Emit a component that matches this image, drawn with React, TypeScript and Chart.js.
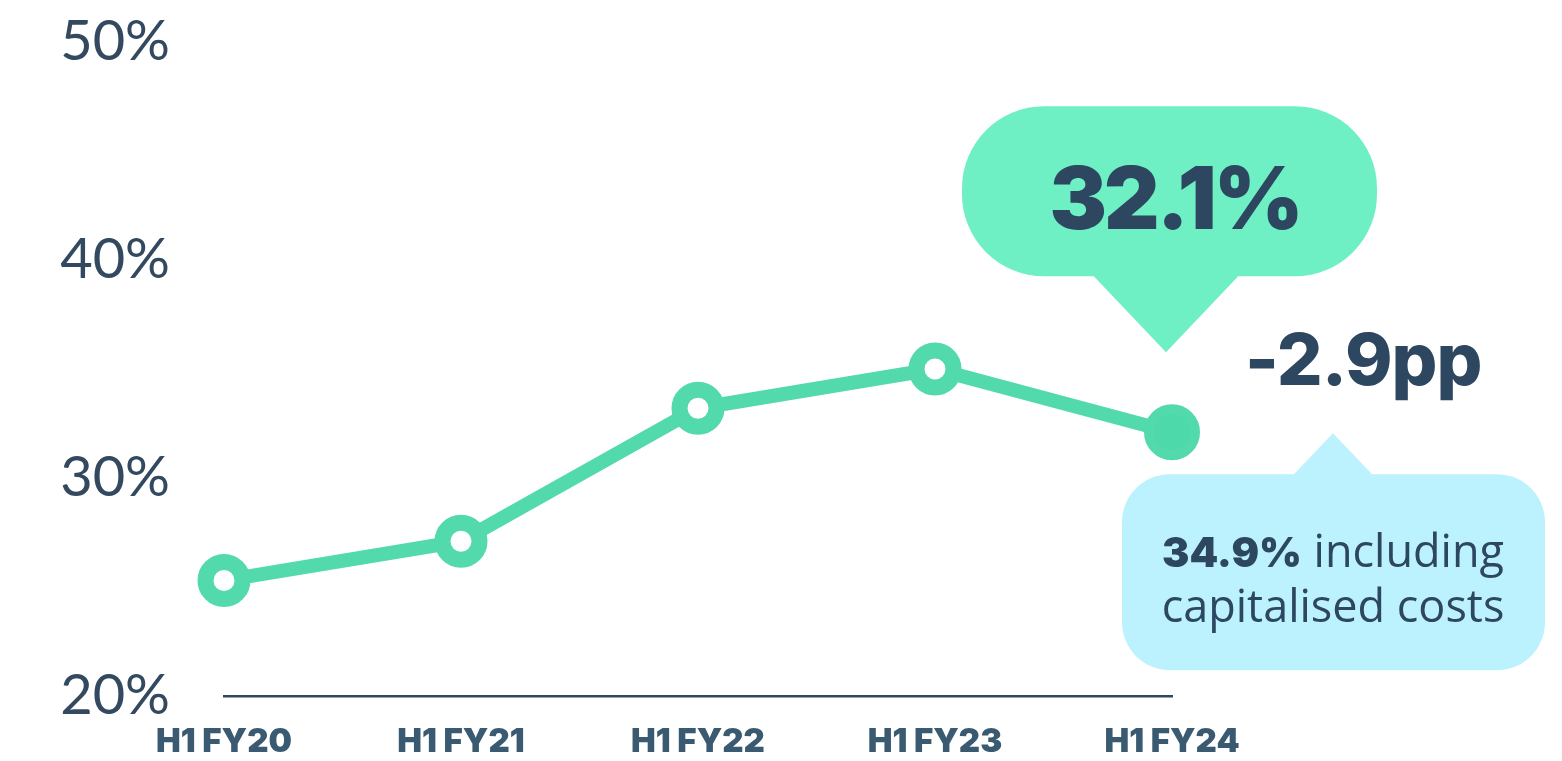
import React, { useEffect, useRef } from "react";
import { Chart, registerables } from "chart.js";

Chart.register(...registerables);

const categories = ["H1 FY20", "H1 FY21", "H1 FY22", "H1 FY23", "H1 FY24"];
const values = [25.3, 27.1, 33.2, 35.0, 32.1];
const yTicks = [20, 30, 40, 50];
const headlineValue = "32.1%";
const changeLabel = "-2.9pp";
const inclCapValue = "34.9%";
const inclCapLine1 = " including";
const inclCapLine2 = "capitalised costs";

const DARK = "#2D4760";
const LINE = "#52D9AC";
const GREEN_BUBBLE = "#6EF0C4";
const BLUE_BUBBLE = "#BBF2FD";

const calloutPlugin = {
  id: "callouts",
  afterDraw(chart: any) {
    const ctx = chart.ctx as CanvasRenderingContext2D;
    const meta = chart.getDatasetMeta(0);
    const pt = meta.data[meta.data.length - 1];
    const x = pt.x;
    const y = pt.y;
    ctx.save();

    // green bubble
    ctx.fillStyle = GREEN_BUBBLE;
    ctx.beginPath();
    (ctx as any).roundRect(x - 210, y - 326, 415, 170, 82);
    ctx.fill();
    ctx.beginPath();
    ctx.moveTo(x - 82, y - 160);
    ctx.lineTo(x + 70, y - 160);
    ctx.lineTo(x - 6, y - 80);
    ctx.closePath();
    ctx.fill();

    ctx.fillStyle = DARK;
    ctx.textAlign = "center";
    ctx.textBaseline = "alphabetic";
    ctx.font = "900 86px Inter";
    (ctx as any).letterSpacing = "-3px";
    ctx.fillText(headlineValue, x + 3, y - 203);
    (ctx as any).letterSpacing = "0px";

    // change label
    ctx.textAlign = "left";
    ctx.font = "800 72px Inter";
    (ctx as any).letterSpacing = "-1px";
    ctx.fillText(changeLabel, x + 73, y - 47);
    (ctx as any).letterSpacing = "0px";

    // blue bubble
    ctx.fillStyle = BLUE_BUBBLE;
    ctx.beginPath();
    (ctx as any).roundRect(x - 50, y + 42, 423, 196, 48);
    ctx.fill();
    ctx.beginPath();
    ctx.moveTo(x + 120, y + 44);
    ctx.lineTo(x + 202, y + 44);
    ctx.lineTo(x + 161, y + 1);
    ctx.closePath();
    ctx.fill();

    ctx.fillStyle = DARK;
    const cx = x + 161;
    const boldFont = "900 41px Inter";
    const regFont = "400 45px 'Open Sans'";
    ctx.font = boldFont;
    const w1 = ctx.measureText(inclCapValue).width;
    ctx.font = regFont;
    const w2 = ctx.measureText(inclCapLine1).width;
    const start = cx - (w1 + w2) / 2;
    ctx.textAlign = "left";
    ctx.font = boldFont;
    ctx.fillText(inclCapValue, start, y + 135);
    ctx.font = regFont;
    ctx.fillText(inclCapLine1, start + w1, y + 135);
    ctx.textAlign = "center";
    ctx.fillText(inclCapLine2, cx, y + 190);

    ctx.restore();
  },
};

export default function App() {
  const ref = useRef<HTMLCanvasElement | null>(null);
  useEffect(() => {
    document.body.style.margin = "0";
    const canvas = ref.current!;
    const chart = new Chart(canvas, {
      type: "line",
      data: {
        labels: categories,
        datasets: [
          {
            data: values,
            borderColor: LINE,
            borderWidth: 14,
            pointRadius: values.map((_, i) => (i === values.length - 1 ? 23 : 18.5)),
            pointBorderWidth: values.map((_, i) => (i === values.length - 1 ? 10 : 16)),
            pointBackgroundColor: values.map((_, i) => (i === values.length - 1 ? "#4DD9A9" : "#FFFFFF")),
            pointBorderColor: LINE,
            tension: 0,
            clip: false as any,
          },
        ],
      },
      options: {
        animation: false,
        responsive: false,
        maintainAspectRatio: false,
        layout: { padding: { top: 42, right: 390, left: 0, bottom: 0 } },
        plugins: { legend: { display: false }, tooltip: { enabled: false } },
        scales: {
          x: {
            type: "category",
            offset: false,
            grid: { display: false, drawTicks: false },
            border: { display: true, color: DARK, width: 2.5 },
            ticks: {
              color: "#3A5A72",
              font: { family: "Inter", weight: "900" as any, size: 33, lineHeight: 0.01 },
              padding: 46,
              maxRotation: 0,
              autoSkip: false,
            },
            afterFit: (s: any) => {
              s.height = 65;
            },
          },
          y: {
            min: 20,
            max: 50,
            afterBuildTicks: (s: any) => {
              s.ticks = yTicks.map((v) => ({ value: v }));
            },
            grid: {
              display: true,
              drawOnChartArea: false,
              drawTicks: true,
              tickLength: 54,
              tickColor: "rgba(0,0,0,0)",
              color: "rgba(0,0,0,0)",
            },
            border: { display: false },
            ticks: {
              color: "#33495F",
              font: { family: "Lato", weight: "400" as any, size: 56, lineHeight: 0.01 },
              padding: 0,
              callback: (v: any) => `${v}%`,
            },
            afterFit: (s: any) => {
              s.width = 224;
            },
          },
        },
      },
      plugins: [calloutPlugin],
    });
    return () => chart.destroy();
  }, []);
  return (
    <div style={{ position: "fixed", left: 0, top: 0, width: 1562, height: 761 }}>
      <canvas ref={ref} width={1562} height={761} style={{ width: 1562, height: 761 }} />
    </div>
  );
}
